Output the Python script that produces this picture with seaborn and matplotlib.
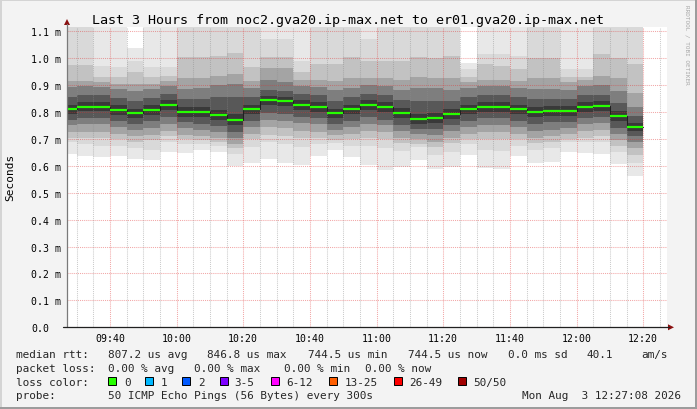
import numpy as np
import pandas as pd
import matplotlib
matplotlib.use("Agg")
import matplotlib.pyplot as plt
import matplotlib.dates as mdates
from matplotlib.patches import Rectangle, Polygon
from matplotlib.lines import Line2D
import seaborn as sns

sns.set_theme(style="white")
plt.rcParams['font.family'] = ['DejaVu Sans Mono', 'DejaVu Sans']

# ---------------- data (milliseconds) ----------------
times = pd.date_range("2026-08-03 09:25", periods=35, freq="5min")
t_start = pd.Timestamp("2026-08-03 09:27:08")
t_end = pd.Timestamp("2026-08-03 12:27:08")

median = [.811, .820, .820, .809, .796, .809, .827, .800, .800, .790, .771, .811, .846, .842, .827, .820, .796, .811,
          .827, .820, .797, .775, .779, .794, .811, .820, .820, .811, .801, .805, .805, .820, .824, .786, .744]
# sorted ping ranks (of 50) per 5-minute step
p50 = [1.25, 1.25, 1.2, 1.2, 1.038, 1.2, 1.2, 1.25, 1.25, 1.25, 1.25, 1.25, 1.2, 1.2, 1.2, 1.25, 1.25, 1.25,
       1.2, 1.25, 1.25, 1.25, 1.25, 1.25, .982, 1.2, 1.2, 1.2, 1.25, 1.25, 1.2, 1.2, 1.25, 1.25, 1.25]
p48 = [1.15, 1.15, .97, .966, .99, .966, .966, 1.15, 1.15, 1.15, 1.15, 1.15, 1.07, 1.07, .99, 1.15, 1.15, 1.15,
       1.07, 1.15, 1.15, 1.15, 1.15, 1.15, .96, 1.016, 1.016, 1.01, 1.15, 1.15, .96, .96, 1.15, 1.15, 1.15]
p45 = [.975, .975, .93, .93, .95, .93, .935, 1.003, 1.003, 1.01, 1.02, .966, 1.003, 1.003, .95, .978, .978, 1.003,
       .99, .99, .99, 1.003, 1.0, 1.01, .93, .978, .97, .96, 1.0, 1.0, .93, .93, 1.016, 1.0, .98]
p41 = [.915, .915, .910, .905, .905, .905, .915, .925, .925, .935, .940, .915, .965, .965, .920, .920, .915, .925,
       .925, .925, .920, .930, .925, .925, .910, .920, .920, .915, .925, .925, .910, .920, .935, .925, .870]
p36 = [.893, .895, .893, .885, .878, .885, .898, .885, .888, .901, .903, .891, .918, .913, .898, .893, .881, .891,
       .901, .895, .883, .891, .888, .883, .888, .895, .895, .888, .885, .885, .883, .898, .901, .878, .820]
p31 = [.857, .862, .862, .852, .842, .852, .867, .847, .849, .857, .857, .855, .882, .879, .867, .862, .842, .855,
       .867, .862, .845, .842, .842, .842, .855, .862, .862, .855, .847, .849, .849, .862, .865, .832, .785]
p27 = [.827, .836, .836, .825, .813, .825, .843, .817, .817, .809, .791, .827, .861, .857, .843, .836, .813, .827,
       .843, .836, .814, .794, .797, .811, .827, .836, .836, .827, .818, .821, .821, .836, .840, .803, .760]
p24 = [.792, .802, .802, .790, .777, .790, .807, .782, .782, .772, .752, .792, .825, .822, .807, .800, .777, .792,
       .807, .800, .777, .757, .760, .775, .792, .800, .800, .792, .782, .787, .787, .800, .805, .767, .730]
p20 = [.772, .777, .777, .768, .757, .767, .782, .762, .757, .747, .727, .767, .797, .792, .782, .777, .757, .767,
       .782, .772, .752, .737, .737, .752, .767, .777, .777, .767, .757, .762, .762, .777, .782, .742, .710]
p15 = [.750, .755, .755, .745, .735, .740, .755, .740, .735, .725, .705, .745, .770, .765, .760, .755, .735, .745,
       .755, .750, .730, .720, .715, .730, .745, .750, .750, .745, .730, .735, .740, .755, .760, .720, .690]
p10 = [.725, .725, .725, .720, .710, .715, .730, .715, .710, .705, .680, .720, .745, .740, .730, .725, .715, .720,
       .730, .725, .705, .700, .690, .705, .720, .725, .725, .720, .705, .710, .720, .730, .735, .695, .665]
p06 = [.705, .705, .705, .700, .690, .695, .710, .700, .695, .690, .665, .700, .715, .710, .705, .705, .695, .700,
       .705, .700, .685, .680, .670, .685, .700, .700, .700, .700, .685, .690, .700, .705, .710, .675, .640]
p03 = [.69, .68, .675, .675, .665, .66, .69, .68, .68, .675, .645, .67, .69, .68, .67, .68, .685, .675,
       .675, .665, .655, .67, .64, .65, .68, .66, .655, .675, .66, .665, .69, .69, .69, .65, .61]
p01 = [.645, .638, .634, .638, .627, .623, .653, .649, .660, .653, .601, .612, .627, .612, .604, .638, .660, .634,
       .604, .586, .597, .623, .589, .597, .641, .593, .589, .638, .612, .615, .653, .649, .645, .608, .563]

y_ticks = [0.0, 0.1, 0.2, 0.3, 0.4, 0.5, 0.6, 0.7, 0.8, 0.9, 1.0, 1.1]
y_labels = ["0.0", "0.1 m", "0.2 m", "0.3 m", "0.4 m", "0.5 m", "0.6 m", "0.7 m", "0.8 m", "0.9 m", "1.0 m", "1.1 m"]

title = "Last 3 Hours from noc2.gva20.ip-max.net to er01.gva20.ip-max.net"
rtt_items = ["median rtt:", "807.2 us avg", "846.8 us max", "744.5 us min", "744.5 us now", "0.0 ms sd", "40.1", "am/s"]
loss_items = ["packet loss:", "0.00 % avg", "0.00 % max", "0.00 % min", "0.00 % now"]
loss_labels = ["0", "1", "2", "3-5", "6-12", "13-25", "26-49", "50/50"]
loss_colors = ["#26ff00", "#00b8ff", "#0059ff", "#7e00ff", "#ff00ff", "#ff5e00", "#ff0000", "#a10000"]
probe_items = ["probe:", "50 ICMP Echo Pings (56 Bytes) every 300s"]
stamp = "Mon Aug  3 12:27:08 2026"

# smoke layers (outer rank pair first), grey as in SmokePing: int(190/25*(25-i))+50
layers = [(p01, p50, 1), (p03, p48, 3), (p06, p45, 6), (p10, p41, 10), (p15, p36, 15), (p20, p31, 20), (p24, p27, 24)]

# ---------------- figure ----------------
W, H = 697, 410
BG = "#f3f3f3"
fig = plt.figure(figsize=(W / 100, H / 100), dpi=100, facecolor=BG)

def fx(x):
    return x / W

def fy(y):
    return (H - y) / H

X0, X1, YT, YB = 67, 667, 28, 328.3
ax = fig.add_axes([fx(X0), fy(YB), fx(X1 - X0), (YB - YT) / H])
ax.set_facecolor("white")
for s in ax.spines.values():
    s.set_visible(False)

edges = list(times) + [times[-1] + pd.Timedelta(minutes=5)]
xe = mdates.date2num(edges)

def ext(a):
    a = np.asarray(a, dtype=float)
    return np.append(a, a[-1])

for lo, hi, rank in layers:
    g = int(190 / 25 * (25 - rank)) + 50
    col = "#%02x%02x%02x" % (g, g, g)
    ax.fill_between(xe, ext(lo), ext(hi), step="post", color=col, lw=0, zorder=1, antialiased=False)

# median: dark step line, then loss-coloured bars
sns.lineplot(x=xe, y=ext(median), drawstyle="steps-post", color="#202020", lw=0.75, ax=ax,
             estimator=None, sort=False, zorder=3)
ax.hlines(median, xe[:-1], xe[1:], colors=loss_colors[0], lw=1.6, zorder=4)

ax.set_xlim(mdates.date2num(t_start), mdates.date2num(t_end))
ax.set_ylim(0, 1.116)

ax.xaxis.set_major_locator(mdates.MinuteLocator(byminute=[0, 20, 40]))
ax.xaxis.set_minor_locator(mdates.MinuteLocator(byminute=[5, 10, 15, 25, 30, 35, 45, 50, 55]))
ax.xaxis.set_major_formatter(mdates.DateFormatter("%H:%M"))
ax.set_yticks(y_ticks)
ax.set_yticklabels(y_labels)
ax.set_axisbelow(False)
ax.grid(which="major", axis="both", color="#e03030", alpha=0.42, lw=0.75, ls=(0, (1, 1)), zorder=2)
ax.grid(which="minor", axis="x", color="#8c8c8c", alpha=0.45, lw=0.75, ls=(0, (1, 1)), zorder=2)
ax.tick_params(axis="x", which="both", length=0, pad=4.3, labelsize=7.1, colors="black")
ax.tick_params(axis="y", which="both", length=0, pad=25.9, labelsize=7.1, colors="black")
for lab in ax.get_yticklabels():
    lab.set_horizontalalignment("left")
ax.set_xlabel("")
ax.set_ylabel("")

# axes lines and arrows (pixel positions)
fig.add_artist(Line2D([fx(X0), fx(X0)], [fy(YB), fy(25)], color="#7a7a7a", lw=0.9))
fig.add_artist(Line2D([fx(63), fx(669)], [fy(YB), fy(YB)], color="#202020", lw=0.9))
fig.add_artist(Polygon([[fx(X0 - 3), fy(26)], [fx(X0 + 3), fy(26)], [fx(X0), fy(20)]], closed=True,
                       color="#8b1010", lw=0))
fig.add_artist(Polygon([[fx(668), fy(YB - 3)], [fx(668), fy(YB + 3)], [fx(674), fy(YB)]], closed=True,
                       color="#8b1010", lw=0))

# texts
fig.text(fx(348.5), fy(24), title, ha="center", va="baseline", fontsize=9.6, color="black")
fig.text(fx(10.5), fy(177), "Seconds", rotation=90, ha="center", va="center", fontsize=8, color="black")
fig.text(fx(687), fy(5), "RRDTOOL / TOBI OETIKER", rotation=-90, ha="center", va="top", fontsize=4.3,
         color="#a8a8a8")

LF = 7.9
rtt_x = [16.4, 108, 207, 307.6, 408, 507.6, 586.7, 641]
for s, x in zip(rtt_items, rtt_x):
    fig.text(fx(x), fy(357.7), s, ha="left", va="baseline", fontsize=LF)
loss_x = [16.4, 108, 194, 284.4, 365]
for s, x in zip(loss_items, loss_x):
    fig.text(fx(x), fy(371.7), s, ha="left", va="baseline", fontsize=LF)
fig.text(fx(16.4), fy(385.7), "loss color:", ha="left", va="baseline", fontsize=LF)
box_x = [108, 145.3, 182, 219.6, 270.7, 329.3, 393.8, 458.2]
lab_x = [124, 161, 198, 234.7, 286.7, 345, 409.3, 473.3]
for c, l, bx, lx in zip(loss_colors, loss_labels, box_x, lab_x):
    fig.add_artist(Rectangle((fx(bx), fy(386)), 8 / W, 7.6 / H, facecolor=c, edgecolor="black", lw=0.7))
    fig.text(fx(lx), fy(385.7), l, ha="left", va="baseline", fontsize=LF)
fig.text(fx(16.4), fy(399.5), probe_items[0], ha="left", va="baseline", fontsize=LF)
fig.text(fx(108), fy(399.5), probe_items[1], ha="left", va="baseline", fontsize=LF)
fig.text(fx(681), fy(399.5), stamp, ha="right", va="baseline", fontsize=LF)

# image border shading
fig.add_artist(Rectangle((0, 1 - 2 / H), 1, 2 / H, facecolor="#d4d4d4", lw=0))
fig.add_artist(Rectangle((0, 0), 2 / W, 1, facecolor="#d4d4d4", lw=0))
fig.add_artist(Rectangle((1 - 2 / W, 0), 2 / W, 1, facecolor="#9c9c9c", lw=0))
fig.add_artist(Rectangle((0, 0), 1, 2 / H, facecolor="#9c9c9c", lw=0))

fig.savefig("out.png", dpi=100, facecolor=BG)
